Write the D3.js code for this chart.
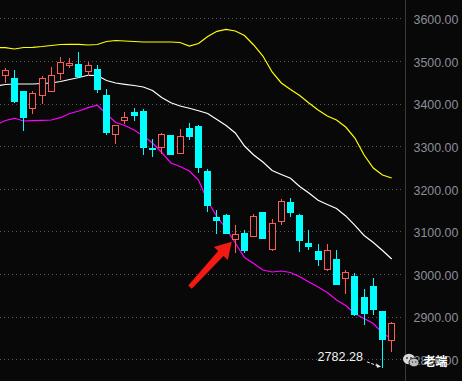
<!DOCTYPE html>
<html><head><meta charset="utf-8">
<script src="https://cdn.jsdelivr.net/npm/d3@7"></script>
<style>
html,body{margin:0;padding:0;background:#080808;overflow:hidden}
svg{display:block}
</style></head>
<body>
<script>
// ---- data ----
const candleIdx = d3.range(43);
const opens  = [3466.3,3459.9,3429.4,3388.9,3420.8,3430.1,3472.4,3490.4,3492.1,3477.1,3481.0,3420.1,3327.9,3360.7,3380.2,3382.5,3296.4,3298.8,3326.2,3284.0,3342.6,3347.3,3241.8,3133.1,3137.8,3081.5,3097.0,3090.0,3145.6,3058.1,3123.8,3169.0,3138.5,3072.9,3054.8,3011.2,3035.3,2991.4,2995.4,2946.2,2972.0,2912.6,2844.6];
const highs  = [3482.7,3479.4,3430.0,3429.4,3464.6,3485.7,3508.5,3506.2,3521.6,3498.2,3489.3,3434.8,3350.0,3380.2,3390.3,3386.5,3316.8,3331.6,3327.0,3339.6,3353.7,3349.7,3245.8,3150.3,3140.2,3115.1,3103.3,3140.9,3146.0,3128.5,3176.1,3178.4,3140.2,3103.3,3070.5,3070.5,3056.4,3009.5,3001.8,2964.9,2989.6,2913.0,2887.5];
const lows   = [3450.0,3404.3,3339.1,3378.5,3402.0,3429.0,3458.3,3485.0,3463.0,3467.0,3427.8,3327.9,3308.2,3353.7,3360.7,3280.9,3276.9,3283.3,3281.0,3283.0,3316.8,3240.1,3147.9,3095.6,3096.0,3052.4,3051.7,3089.0,3085.0,3057.0,3116.7,3136.9,3054.8,3058.1,3021.2,3010.0,2977.0,2954.9,2903.9,2883.5,2907.0,2782.28,2819.5];
const closes = [3478.7,3406.7,3369.2,3424.1,3459.9,3466.3,3496.8,3495.1,3464.6,3490.4,3434.1,3333.3,3349.0,3368.4,3373.1,3298.8,3294.1,3327.9,3282.4,3323.2,3324.6,3251.9,3162.0,3127.5,3097.0,3094.7,3056.4,3135.5,3085.3,3119.1,3171.4,3146.3,3079.2,3066.5,3036.0,3055.7,2977.4,3004.1,2907.0,2909.3,2918.7,2848.3,2885.2];

// band lines, first value belongs to the bar just left of the visible window (index -1)
const lineIdx = d3.range(-1, 43);
const upperBand = [3531.0,3531.0,3528.0,3531.5,3532.0,3533.8,3536.2,3538.5,3539.0,3539.0,3537.4,3538.5,3545.6,3547.9,3546.7,3545.6,3544.4,3544.4,3544.4,3544.4,3543.2,3535.0,3540.9,3557.3,3569.5,3574.2,3570.2,3559.6,3537.4,3511.5,3474.0,3448.2,3433.0,3418.9,3401.3,3384.9,3370.8,3361.4,3345.0,3319.2,3279.3,3248.8,3232.4,3225.3];
const midBand   = [3441.2,3444.7,3445.9,3445.9,3445.9,3447.0,3448.2,3451.7,3456.4,3461.1,3466.3,3465.8,3454.1,3448.2,3445.2,3442.4,3438.8,3430.6,3414.2,3402.0,3394.3,3388.9,3383.2,3376.7,3362.6,3348.5,3330.9,3300.4,3279.3,3262.9,3243.0,3233.6,3224.6,3205.4,3190.2,3173.0,3163.2,3153.8,3136.3,3114.0,3090.4,3074.0,3055.3,3035.3];
const lowerBand = [3349.7,3360.2,3365.4,3359.1,3359.8,3360.7,3361.4,3366.8,3376.7,3382.5,3390.3,3396.1,3375.5,3355.5,3348.5,3338.0,3323.9,3307.5,3285.2,3260.5,3252.3,3241.8,3220.6,3171.4,3134.5,3106.9,3072.9,3038.8,3024.8,3009.5,3004.8,3007.2,3003.6,2993.8,2981.4,2969.6,2956.7,2939.1,2926.2,2907.0,2895.7,2884.0,2861.7,2847.6];

const tickValues = [2800,2900,3000,3100,3200,3300,3400,3500,3600];
const tickLabels = ["2800.00","2900.00","3000.00","3100.00","3200.00","3300.00","3400.00","3500.00","3600.00"];
const lowLabel = "2782.28";
const lowIndex = 41;
const arrowIndex = 25;
const watermark = "老端";

// ---- layout ----
const W = 462, H = 381;
const plotRight = 405;
const x = d3.scaleLinear().domain([0, 42]).range([5.3, 391.7]);
const y = d3.scaleLinear().domain([2800, 3600]).range([359.3, 18.3]);
const bodyW = 7;

const svg = d3.select("body").append("svg").attr("width", W).attr("height", H);
svg.append("rect").attr("width", W).attr("height", H).attr("fill", "#080808");

svg.append("defs").append("clipPath").attr("id", "plotClip")
  .append("rect").attr("x", 0).attr("y", 0).attr("width", plotRight).attr("height", H);

// grid
svg.append("g").selectAll("line").data(tickValues).join("line")
  .attr("x1", 0).attr("x2", plotRight - 2)
  .attr("y1", d => Math.round(y(d)) + 0.5).attr("y2", d => Math.round(y(d)) + 0.5)
  .attr("stroke", "#5a5a5a").attr("stroke-width", 1).attr("stroke-dasharray", "1,3");

// right axis
const yAxis = d3.axisRight(y).tickValues(tickValues).tickSize(0)
  .tickFormat((d, i) => tickLabels[tickValues.indexOf(d)]);
const ax = svg.append("g").attr("transform", `translate(${plotRight + 0.5},0)`).call(yAxis);
ax.select(".domain").attr("stroke", "#3a3a3a").attr("d", `M0,0V${H}`);
ax.selectAll("text").attr("x", 8).attr("dy", "0.42em")
  .attr("fill", "#8a8f98").attr("font-family", "'Liberation Sans', Arial, sans-serif")
  .attr("font-size", "12.4px");

const plot = svg.append("g").attr("clip-path", "url(#plotClip)");

// band lines
const lineGen = vals => d3.line().x((d, i) => x(lineIdx[i])).y(d => y(d))(vals);
plot.append("path").attr("d", lineGen(upperBand)).attr("fill", "none").attr("stroke", "#ffff00").attr("stroke-width", 1.2);
plot.append("path").attr("d", lineGen(midBand)).attr("fill", "none").attr("stroke", "#ffffff").attr("stroke-width", 1.2);
plot.append("path").attr("d", lineGen(lowerBand)).attr("fill", "none").attr("stroke", "#ff00ff").attr("stroke-width", 1.2);

// candles
const UP = "#ff5a5a", DOWN = "#00ffff";
const candles = candleIdx.map(i => ({i, o: opens[i], h: highs[i], l: lows[i], c: closes[i]}));
const cg = plot.append("g").attr("shape-rendering", "crispEdges");
candles.forEach(d => {
  const left = Math.round(x(d.i) - bodyW / 2);
  const cx = left + 3.5;
  const up = d.c >= d.o;
  const col = up ? UP : DOWN;
  const top = Math.round(y(Math.max(d.o, d.c)));
  const bot = Math.round(y(Math.min(d.o, d.c)));
  cg.append("line").attr("x1", cx).attr("x2", cx)
    .attr("y1", Math.round(y(d.h))).attr("y2", Math.round(y(d.l)) + 1)
    .attr("stroke", col).attr("stroke-width", 1);
  if (up) {
    cg.append("rect").attr("x", left + 0.5).attr("y", top + 0.5)
      .attr("width", bodyW - 1).attr("height", Math.max(1, bot - top))
      .attr("fill", "#080808").attr("stroke", col).attr("stroke-width", 1);
  } else {
    cg.append("rect").attr("x", left).attr("y", top)
      .attr("width", bodyW).attr("height", Math.max(1, bot - top + 1))
      .attr("fill", col);
  }
});

// red arrow pointing at a candle
const tip = [x(arrowIndex) - 3.6, y(lows[arrowIndex]) - 10];
const tail = [tip[0] - 41.7, tip[1] + 45.3];
{
  const dx = tip[0] - tail[0], dy = tip[1] - tail[1];
  const len = Math.hypot(dx, dy);
  const u = [dx / len, dy / len], n = [-u[1], u[0]];
  const headL = 16, headW = 9.5, shaftW1 = 3.6, shaftW0 = 2.4;
  const base = [tip[0] - u[0] * headL, tip[1] - u[1] * headL];
  const P = (p, k, s) => [p[0] + n[0] * k * s, p[1] + n[1] * k * s];
  const pts = [tip, P(base, 1, headW), P(base, 1, shaftW1), P(tail, 1, shaftW0), P(tail, -1, shaftW0), P(base, -1, shaftW1), P(base, -1, headW)];
  svg.append("path").attr("d", "M" + pts.map(p => p.join(",")).join("L") + "Z").attr("fill", "#f41a14");
}

// low annotation
const lt = [x(lowIndex) - 1.5, y(lows[lowIndex])];
svg.append("text").attr("x", lt[0] - 18).attr("y", lt[1] - 6)
  .attr("text-anchor", "end").attr("fill", "#f0f0f0")
  .attr("font-family", "'Liberation Sans', Arial, sans-serif").attr("font-size", "12.6px")
  .text(lowLabel);
svg.append("line").attr("x1", lt[0] - 14).attr("y1", lt[1] - 5).attr("x2", lt[0] - 2).attr("y2", lt[1] - 0.5)
  .attr("stroke", "#e8e8e8").attr("stroke-width", 1).attr("stroke-dasharray", "3,1.5");
svg.append("path").attr("d", `M${lt[0]},${lt[1]}L${lt[0]-5},${lt[1]-3.5}L${lt[0]-4},${lt[1]+1}Z`).attr("fill", "#e8e8e8");

// watermark
const wm = svg.append("g").attr("transform", "translate(403,353)");
wm.append("ellipse").attr("cx", 6).attr("cy", 6).attr("rx", 6).attr("ry", 5.2).attr("fill", "#d8d8d8");
wm.append("ellipse").attr("cx", 11).attr("cy", 9.5).attr("rx", 5).attr("ry", 4.3).attr("fill", "#bdbdbd").attr("stroke", "#080808").attr("stroke-width", 0.8);
wm.append("circle").attr("cx", 4).attr("cy", 5).attr("r", 0.9).attr("fill", "#333");
wm.append("circle").attr("cx", 8).attr("cy", 5).attr("r", 0.9).attr("fill", "#333");
wm.append("circle").attr("cx", 9.5).attr("cy", 9).attr("r", 0.7).attr("fill", "#333");
wm.append("circle").attr("cx", 12.8).attr("cy", 9).attr("r", 0.7).attr("fill", "#333");
svg.append("text").attr("x", 423.5).attr("y", 366).attr("fill", "#ffffff")
  .attr("font-family", "'Noto Sans CJK SC', sans-serif").attr("font-weight", "bold").attr("font-size", "12px")
  .attr("stroke", "#222").attr("stroke-width", 0.4).attr("paint-order", "stroke")
  .text(watermark);
</script>
</body></html>
